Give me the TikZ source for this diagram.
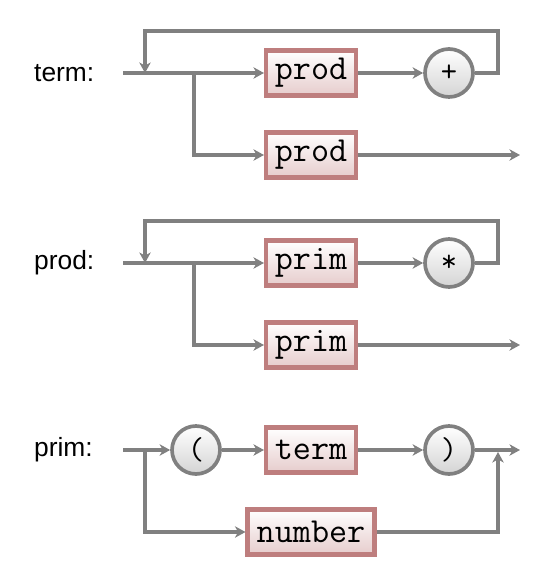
\documentclass[tikz,border=0pt]{standalone}
\usepackage{fontspec}
\setmainfont{Liberation Sans}
\usetikzlibrary{arrows.meta}

\definecolor{linea}{RGB}{128,128,128}
\definecolor{borde}{RGB}{190,126,126}
\definecolor{rosa}{RGB}{230,204,204}
\definecolor{gris}{RGB}{212,212,212}

\begin{document}
\begin{tikzpicture}[
      x=0.02cm, y=-0.02cm,
      etiqueta/.style={anchor=west, font=\fontsize{15}{18}\selectfont},
      caja/.style={draw=borde, line width=2.3pt, top color=white, bottom color=rosa,
                   minimum width=1.8cm, minimum height=0.9cm, inner sep=2pt,
                   font=\ttfamily\fontsize{20}{24}\selectfont},
      circulo/.style={circle, draw=linea, line width=2.1pt, top color=white, bottom color=gris,
                      minimum size=0.96cm, inner sep=0pt,
                      font=\ttfamily\fontsize{18}{20}\selectfont},
      flecha/.style={-{Stealth[length=6pt, width=6.5pt, inset=1.8pt]}, line width=1.9pt, draw=linea}]
    \useasboundingbox (0,0) rectangle (544,577);
    % term
    \node[etiqueta] (lterm) at (28,73) {term:};
    \coordinate (t0) at (123,73);
    \coordinate (tb) at (194,73);
    \coordinate (tj) at (145,73);
    \coordinate (tr) at (498,31);
    \coordinate (tl) at (145,31);
    \coordinate (tfin) at (520,155);
    \node[caja] (tp1) at (311,73) {prod};
    \node[circulo] (tmas) at (449,73) {+};
    \node[caja] (tp2) at (311,155) {prod};
    \draw[flecha] (t0) -- (tp1);
    \draw[flecha] (tp1) -- (tmas);
    \draw[flecha] (tmas) -| (tr) -- (tl) -- (tj);
    \draw[flecha] (tb) |- (tp2);
    \draw[flecha] (tp2) -- (tfin);
    % prod
    \node[etiqueta] (lprod) at (28,263) {prod:};
    \coordinate (r0) at (123,263);
    \coordinate (rb) at (194,263);
    \coordinate (rj) at (145,263);
    \coordinate (rr) at (498,221);
    \coordinate (rl) at (145,221);
    \coordinate (rfin) at (520,345);
    \node[caja] (rp1) at (311,263) {prim};
    \node[circulo] (rpor) at (449,263) {*};
    \node[caja] (rp2) at (311,345) {prim};
    \draw[flecha] (r0) -- (rp1);
    \draw[flecha] (rp1) -- (rpor);
    \draw[flecha] (rpor) -| (rr) -- (rl) -- (rj);
    \draw[flecha] (rb) |- (rp2);
    \draw[flecha] (rp2) -- (rfin);
    % prim
    \node[etiqueta] (lprim) at (28,450) {prim:};
    \coordinate (p0) at (123,450);
    \coordinate (pj) at (145,450);
    \coordinate (pup) at (498,452);
    \coordinate (pfin) at (520,450);
    \node[circulo] (pa) at (196,450) {(};
    \node[caja] (pt) at (311,450) {term};
    \node[circulo] (pc) at (449,450) {)};
    \node[caja, minimum width=2.54cm] (pn) at (311,532) {number};
    \draw[flecha] (p0) -- (pa);
    \draw[flecha] (pa) -- (pt);
    \draw[flecha] (pt) -- (pc);
    \draw[flecha] (pc) -- (pfin);
    \draw[flecha] (pj) |- (pn);
    \draw[flecha] (pn) -| (pup);
  \end{tikzpicture}
\end{document}
